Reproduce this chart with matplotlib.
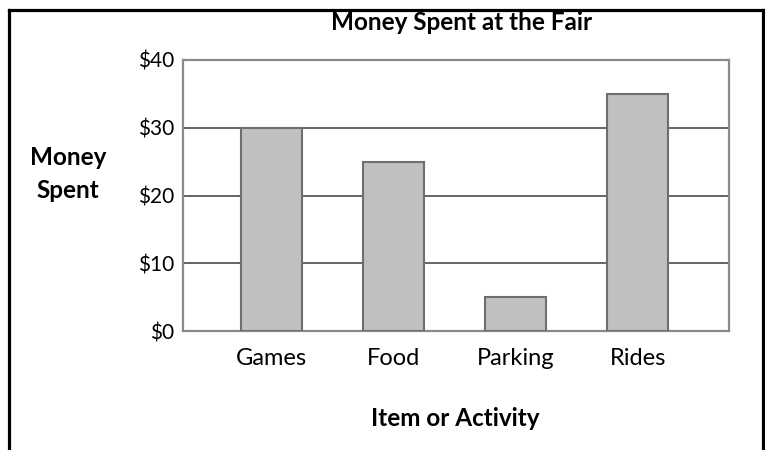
import matplotlib
matplotlib.use('Agg')
import matplotlib.pyplot as plt
from matplotlib.lines import Line2D

categories = ['Games', 'Food', 'Parking', 'Rides']
spent = [30, 25, 5, 35]
y_ticks = [0, 10, 20, 30, 40]
y_labels = ['$0', '$10', '$20', '$30', '$40']

plt.rcParams['font.family'] = ['Lato', 'DejaVu Sans']

fig = plt.figure(figsize=(7.65, 4.5), dpi=100)
ax = fig.add_axes([0.239, 0.2644, 0.714, 0.6023])

x = range(len(categories))
ax.bar(x, spent, width=0.5, color='#c0c0c0', edgecolor='#6e6e6e', linewidth=1.5, zorder=3)

ax.set_ylim(0, 40)
ax.set_xlim(-0.73, 3.75)
ax.set_yticks(y_ticks)
ax.set_yticklabels(y_labels, fontsize=15)
ax.set_xticks(list(x))
ax.set_xticklabels(categories, fontsize=17)
ax.tick_params(axis='both', length=0, colors='black')
ax.tick_params(axis='y', pad=6)
ax.tick_params(axis='x', pad=12)
ax.grid(axis='y', color='#3a3a3a', linewidth=1.1, zorder=1)
for s in ax.spines.values():
    s.set_color('#8a8a8a')
    s.set_linewidth(1.6)

fig.text(0.604, 0.95, 'Money Spent at the Fair', ha='center', va='center',
         fontsize=17.5, fontweight='bold')
fig.text(0.089, 0.651, 'Money', ha='center', va='center', fontsize=17.5, fontweight='bold')
fig.text(0.089, 0.577, 'Spent', ha='center', va='center', fontsize=17.5, fontweight='bold')
fig.text(0.595, 0.071, 'Item or Activity', ha='center', va='center',
         fontsize=17.5, fontweight='bold')

# outer frame (bottom edge is cut off in the original)
fw = 2.3
fig.add_artist(Line2D([0.0124, 0.0124], [0, 0.977], color='black', linewidth=fw))
fig.add_artist(Line2D([0.0124, 0.9975], [0.977, 0.977], color='black', linewidth=fw))
fig.add_artist(Line2D([0.9975, 0.9975], [0, 0.977], color='black', linewidth=fw))

fig.savefig('out.png', dpi=100)
